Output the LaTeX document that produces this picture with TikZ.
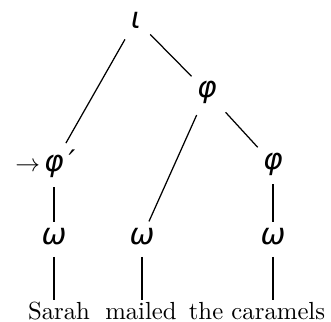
\documentclass[tikz,border=0pt]{standalone}
\usepackage{fontspec}
\newfontfamily\grk{DejaVu Sans}
\usetikzlibrary{positioning}

\begin{document}
\begin{tikzpicture}[
        x=0.0142cm, y=-0.0142cm,
        cat/.style={font=\grk\itshape\large, inner sep=0pt},
        word/.style={anchor=base, inner sep=0pt},
        edge/.style={line width=0.5pt, shorten <=5pt, shorten >=3pt},
        stem/.style={line width=0.5pt, shorten <=3.5pt, shorten >=2.5pt},
        leafstem/.style={line width=0.5pt, shorten <=4.5pt, shorten >=1pt}
    ]
        \useasboundingbox (0,0) rectangle (331,322);

        % categories
        \node[cat] (iota) at (136,20)  {ι};
        \node[cat] (phiM) at (207,92)  {φ};
        \node[cat] (phiL) at (54,164)  {\llap{\rmfamily\upshape\normalsize$\to$\,}φ\rlap{\,′}};
        \node[cat] (phiR) at (273,164) {φ};
        \node[cat] (omA)  at (54,237)  {ω};
        \node[cat] (omB)  at (142,237) {ω};
        \node[cat] (omC)  at (273,237) {ω};

        % words
        \node[word] (sarah)    at (59,320)  {Sarah};
        \node[word] (mailed)   at (141,320) {mailed};
        \node[word] (caramels) at (257,320) {the caramels};

        \draw[edge] (iota) -- (phiL);
        \draw[edge] (iota) -- (phiM);
        \draw[edge] (phiM) -- (omB);
        \draw[edge] (phiM) -- (phiR);
        \draw[stem] (phiL.south) -- (omA.north);
        \draw[stem] (phiR.south) -- (omC.north);
        \draw[leafstem] (omA.south) -- (omA |- sarah.north);
        \draw[leafstem] (omB.south) -- (omB |- mailed.north);
        \draw[leafstem] (omC.south) -- (omC |- caramels.north);
    \end{tikzpicture}
\end{document}
